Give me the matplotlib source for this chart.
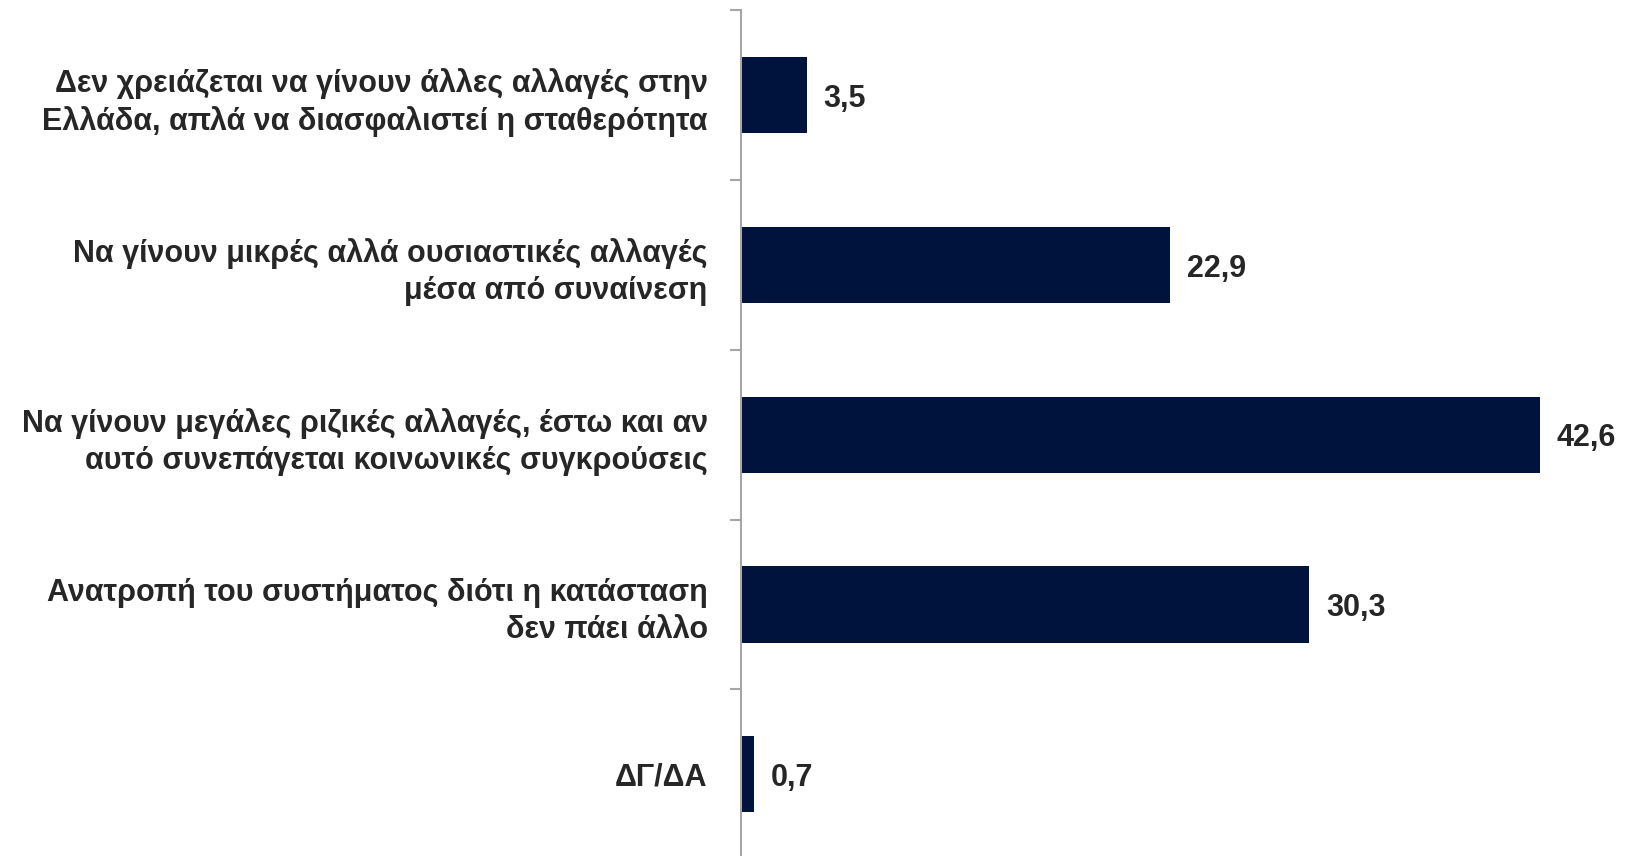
import numpy as np
import matplotlib.pyplot as plt
from matplotlib.ticker import FixedLocator

# κατηγορίες και τιμές (%)
categories = ["Δεν χρειάζεται να γίνουν άλλες αλλαγές στην\nΕλλάδα, απλά να διασφαλιστεί η σταθερότητα",
              "Να γίνουν μικρές αλλά ουσιαστικές αλλαγές\nμέσα από συναίνεση",
              "Να γίνουν μεγάλες ριζικές αλλαγές, έστω και αν\nαυτό συνεπάγεται κοινωνικές συγκρούσεις",
              "Ανατροπή του συστήματος διότι η κατάσταση\nδεν πάει άλλο",
              "ΔΓ/ΔΑ"]
values = [3.5, 22.9, 42.6, 30.3, 0.7]
value_labels = ["3,5", "22,9", "42,6", "30,3", "0,7"]

plt.rcParams['font.family'] = ['Liberation Sans Narrow', 'Liberation Sans', 'DejaVu Sans']

fig = plt.figure(figsize=(16.37, 8.56), dpi=100)
ax = fig.add_axes([0.4527, -0.0035, 0.5473, 0.9913])

y = np.arange(len(categories))
ax.barh(y, values, height=0.45, color="#00133d")

for yi, v, lab in zip(y, values, value_labels):
    ax.text(v + 0.9, yi, lab, va="center_baseline", ha="left", fontsize=22,
            fontweight="bold", color="#262626")

ax.set_ylim(len(categories) - 0.5, -0.5)
ax.set_xlim(0, 47.8)

# etiquetas en los centros, marcas en los límites
ax.set_yticks(y)
ax.set_yticklabels(categories, fontsize=22, fontweight="bold", color="#262626",
                   linespacing=1.32)
ax.tick_params(axis="y", which="major", length=0, pad=24)
ax.yaxis.set_minor_locator(FixedLocator(np.arange(-0.5, len(categories), 1.0)))
ax.tick_params(axis="y", which="minor", length=8, width=1.5, color="#a6a6a6")

ax.set_xticks([])
for s in ["top", "right", "bottom"]:
    ax.spines[s].set_visible(False)
ax.spines["left"].set_color("#a6a6a6")
ax.spines["left"].set_linewidth(1.5)

fig.savefig("out.png", dpi=100)
